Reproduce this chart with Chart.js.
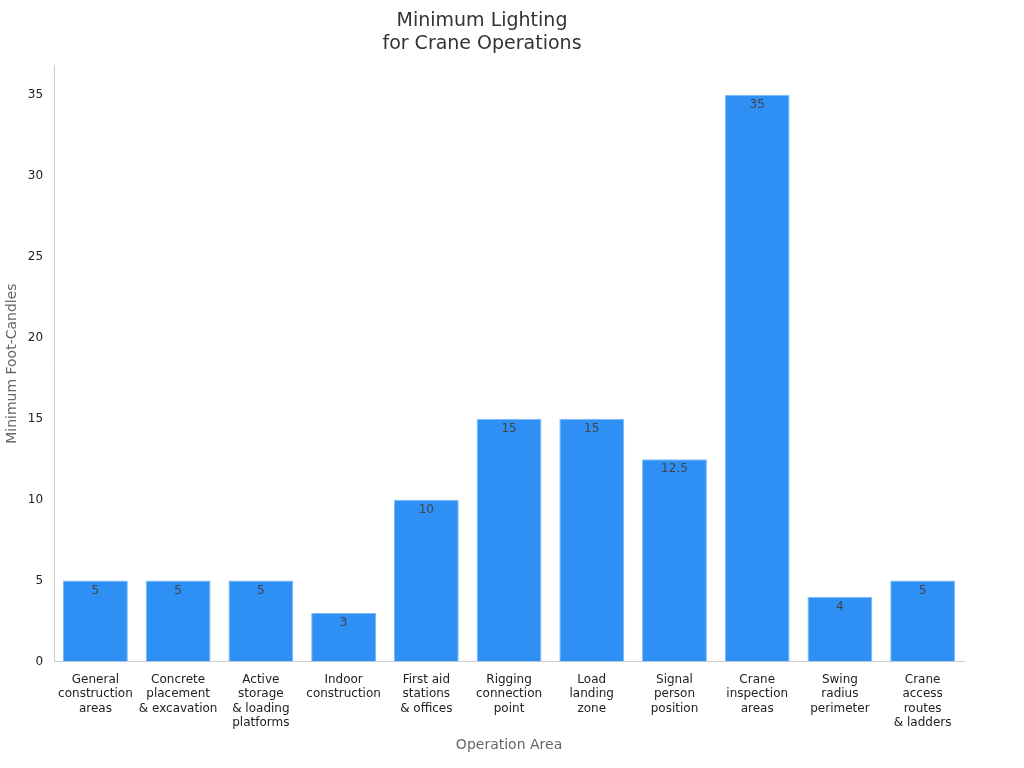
<!DOCTYPE html>
<html><head><meta charset="utf-8">
<script src="https://cdn.jsdelivr.net/npm/chart.js@4"></script>
<style>body{margin:0;background:#fff}#wrap{width:1024px;height:768px}</style>
</head><body><div id="wrap"><canvas id="c"></canvas></div>
<script>
const categories = [
  ['General','construction','areas'], ['Concrete','placement','& excavation'],
  ['Active','storage','& loading','platforms'], ['Indoor','construction'],
  ['First aid','stations','& offices'], ['Rigging','connection','point'],
  ['Load','landing','zone'], ['Signal','person','position'],
  ['Crane','inspection','areas'], ['Swing','radius','perimeter'],
  ['Crane','access','routes','& ladders']
];
const values = [5, 5, 5, 3, 10, 15, 15, 12.5, 35, 4, 5];

const valueLabels = {
  id: 'valueLabels',
  afterDatasetsDraw(chart) {
    const ctx = chart.ctx;
    ctx.save();
    ctx.font = '12px "DejaVu Sans", sans-serif';
    ctx.fillStyle = '#444';
    ctx.textAlign = 'center';
    ctx.textBaseline = 'top';
    chart.getDatasetMeta(0).data.forEach((bar, i) => {
      ctx.fillText(String(values[i]), bar.x, bar.y + 4);
    });
    ctx.restore();
  }
};

new Chart(document.getElementById('c'), {
  type: 'bar',
  data: { labels: categories, datasets: [{
    data: values, backgroundColor: '#2E90F5', borderColor: '#7DB8F5', borderWidth: 1,
    barPercentage: 0.8, categoryPercentage: 0.98
  }] },
  options: {
    responsive: true, maintainAspectRatio: false, animation: false,
    layout: { padding: { left: 0, right: 60, top: 10, bottom: 10 } },
    plugins: {
      legend: { display: false }, tooltip: { enabled: false },
      title: { display: true, text: ['Minimum Lighting', 'for Crane Operations'],
        color: '#333', font: { family: 'DejaVu Sans', size: 19, weight: 'normal' }, padding: { bottom: 10 } }
    },
    scales: {
      x: {
        grid: { display: false, drawTicks: true }, border: { color: '#ccc' },
        ticks: { color: '#222', font: { family: 'DejaVu Sans', size: 12 }, maxRotation: 0, autoSkip: false },
        title: { display: true, text: 'Operation Area', color: '#666', font: { family: 'DejaVu Sans', size: 14 } }
      },
      y: {
        min: 0, max: 36.8,
        afterBuildTicks: s => { s.ticks = [0,5,10,15,20,25,30,35].map(v => ({ value: v })); },
        grid: { display: false, drawTicks: true }, border: { color: '#ccc' },
        ticks: { color: '#222', font: { family: 'DejaVu Sans', size: 12 } },
        title: { display: true, text: 'Minimum Foot-Candles', color: '#666', font: { family: 'DejaVu Sans', size: 14 } }
      }
    }
  },
  plugins: [valueLabels]
});
</script></body></html>
